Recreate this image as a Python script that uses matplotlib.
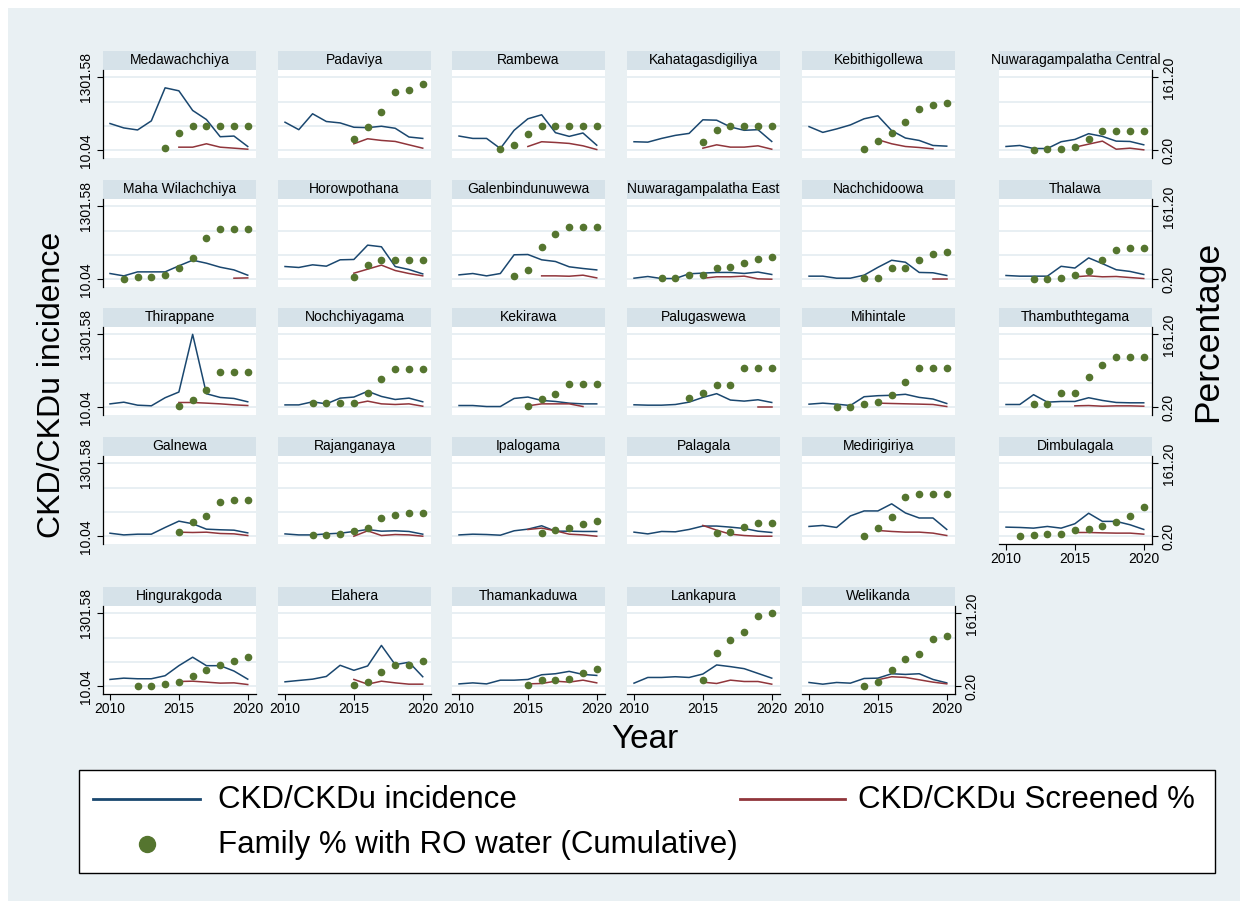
import numpy as np
import matplotlib
matplotlib.use('Agg')
import matplotlib.pyplot as plt
from matplotlib.patches import Rectangle
from matplotlib.lines import Line2D

plt.rcParams['font.family'] = ['Liberation Sans', 'DejaVu Sans']

N = None
years = [2010, 2011, 2012, 2013, 2014, 2015, 2016, 2017, 2018, 2019, 2020]

regions = ['Medawachchiya', 'Padaviya', 'Rambewa', 'Kahatagasdigiliya', 'Kebithigollewa',
           'Nuwaragampalatha Central', 'Maha Wilachchiya', 'Horowpothana', 'Galenbindunuwewa',
           'Nuwaragampalatha East', 'Nachchidoowa', 'Thalawa', 'Thirappane', 'Nochchiyagama',
           'Kekirawa', 'Palugaswewa', 'Mihintale', 'Thambuthtegama', 'Galnewa', 'Rajanganaya',
           'Ipalogama', 'Palagala', 'Medirigiriya', 'Dimbulagala', 'Hingurakgoda', 'Elahera',
           'Thamankaduwa', 'Lankapura', 'Welikanda']

# CKD/CKDu incidence (left axis)
incidence = {
    'Medawachchiya': [483, 405, 369, 530, 1116, 1063, 715, 554, 249, 261, 76],
    'Padaviya': [506, 374, 656, 519, 494, 417, 410, 435, 399, 244, 219],
    'Rambewa': [261, 219, 219, 40, 363, 567, 638, 321, 255, 315, 99],
    'Kahatagasdigiliya': [160, 153, 219, 273, 308, 549, 542, 422, 363, 374, 165],
    'Kebithigollewa': [428, 326, 387, 458, 567, 620, 357, 226, 183, 94, 82],
    'Nuwaragampalatha Central': [76, 94, 40, 40, 160, 201, 303, 255, 171, 165, 106],
    'Maha Wilachchiya': [111, 69, 140, 140, 140, 247, 347, 294, 223, 175, 81],
    'Horowpothana': [235, 218, 265, 241, 354, 360, 614, 585, 235, 182, 104],
    'Galenbindunuwewa': [87, 111, 69, 111, 443, 448, 354, 324, 230, 200, 175],
    'Nuwaragampalatha East': [28, 58, 22, 22, 106, 118, 130, 130, 112, 137, 94],
    'Nachchidoowa': [64, 64, 28, 28, 82, 220, 346, 311, 130, 124, 76],
    'Thalawa': [76, 64, 64, 64, 239, 208, 388, 286, 178, 148, 94],
    'Thirappane': [69, 99, 46, 35, 178, 279, 1301.58, 249, 183, 165, 106],
    'Nochchiyagama': [51, 51, 106, 69, 171, 190, 292, 201, 147, 171, 106],
    'Kekirawa': [40, 40, 22, 22, 165, 190, 130, 112, 82, 69, 69],
    'Palugaswewa': [53, 46, 46, 58, 100, 184, 250, 137, 118, 142, 94],
    'Mihintale': [64, 82, 64, 40, 196, 214, 221, 239, 184, 155, 76],
    'Thambuthtegama': [58, 58, 232, 100, 112, 112, 178, 130, 94, 88, 88],
    'Galnewa': [63, 33, 46, 46, 165, 277, 231, 135, 124, 117, 69],
    'Rajanganaya': [51, 33, 33, 51, 63, 94, 129, 99, 106, 94, 46],
    'Ipalogama': [33, 46, 40, 28, 106, 135, 195, 99, 99, 94, 94],
    'Palagala': [82, 51, 94, 88, 130, 190, 190, 171, 147, 99, 76],
    'Medirigiriya': [183, 201, 165, 369, 458, 458, 584, 422, 333, 333, 130],
    'Dimbulagala': [171, 165, 153, 183, 153, 231, 417, 273, 273, 213, 130],
    'Hingurakgoda': [130, 153, 142, 142, 196, 374, 524, 374, 374, 279, 135],
    'Elahera': [88, 112, 135, 183, 381, 292, 369, 733, 392, 435, 178],
    'Thamankaduwa': [51, 69, 51, 117, 117, 130, 213, 231, 273, 219, 201],
    'Lankapura': [64, 165, 165, 178, 165, 226, 387, 357, 321, 237, 153],
    'Welikanda': [76, 46, 76, 64, 147, 153, 231, 219, 231, 130, 69],
}

# CKD/CKDu Screened % (right axis)
screened = {
    'Medawachchiya': [N, N, N, N, N, 6.9, 6.9, 14.4, 6.9, 4.7, 2.4],
    'Padaviya': [N, N, N, N, N, 14.4, 25.5, 21.8, 19.6, 12.1, 4.7],
    'Rambewa': [N, N, N, N, N, 8.4, 18.9, 17.3, 15.2, 9.9, 1.7],
    'Kahatagasdigiliya': [N, N, N, N, N, 4.7, 12.1, 7.0, 7.0, 9.9, 2.4],
    'Kebithigollewa': [N, N, N, N, N, 23.4, 14.4, 8.4, 6.2, 3.2, N],
    'Nuwaragampalatha Central': [N, N, N, N, N, 6.9, 13.6, 20.3, 2.4, 4.7, 1.0],
    'Maha Wilachchiya': [N, N, N, N, N, N, N, N, N, 2.4, 3.1],
    'Horowpothana': [N, N, N, N, N, 13.5, 22.4, 31.3, 19.4, 12.8, 7.6],
    'Galenbindunuwewa': [N, N, N, N, N, N, 7.6, 7.6, 6.8, 9.1, 3.1],
    'Nuwaragampalatha East': [N, N, N, N, N, 2.4, 5.5, 5.5, 7.0, 1.0, 0.2],
    'Nachchidoowa': [N, N, N, N, N, N, N, N, N, 1.7, 1.7],
    'Thalawa': [N, N, N, N, N, 5.5, 7.7, 5.5, 6.2, 3.9, 1.7],
    'Thirappane': [N, N, N, N, N, 10.6, 10.6, 9.2, 7.6, 5.4, 3.9],
    'Nochchiyagama': [N, N, N, N, N, 7.6, 13.6, 7.6, 6.2, 7.6, 2.4],
    'Kekirawa': [N, N, N, N, N, 3.2, 7.6, 7.6, 7.6, 1.7, N],
    'Palugaswewa': [N, N, N, N, N, N, N, N, N, 1.7, 1.7],
    'Mihintale': [N, N, N, N, N, 9.2, 8.4, 7.7, 7.0, 6.2, 1.7],
    'Thambuthtegama': [N, N, N, N, N, 3.2, 3.9, 2.4, 3.2, 3.2, 2.4],
    'Galnewa': [N, N, N, N, N, 9.1, 8.4, 9.1, 6.2, 5.4, 1.7],
    'Rajanganaya': [N, N, N, N, N, 0.2, 12.1, 1.7, 3.9, 3.1, 0.2],
    'Ipalogama': [N, N, N, N, N, 15.0, 18.1, 12.1, 4.7, 3.1, 0.2],
    'Palagala': [N, N, N, N, N, 24.0, 13.6, 4.7, 1.7, 0.2, 0.2],
    'Medirigiriya': [N, N, N, N, N, 12.9, 10.7, 9.2, 9.2, 7.0, 1.7],
    'Dimbulagala': [N, N, N, N, N, 8.4, 8.4, 7.6, 7.0, 7.0, 4.7],
    'Hingurakgoda': [N, N, N, N, N, 10.6, 11.3, 9.2, 7.0, 7.6, 3.9],
    'Elahera': [N, N, N, N, N, 15.2, 4.7, 11.3, 7.6, 4.7, 4.7],
    'Thamankaduwa': [N, N, N, N, N, 5.4, 6.2, 11.3, 9.2, 13.6, 7.6],
    'Lankapura': [N, N, N, N, N, 9.2, 6.2, 13.6, 10.6, 10.6, 4.7],
    'Welikanda': [N, N, N, N, N, 14.4, 21.1, 19.6, 14.4, 9.2, 5.4],
}

# Family % with RO water (Cumulative) (right axis)
ro_water = {
    'Medawachchiya': [N, N, N, N, 5.4, 37.4, 54.6, 54.6, 54.6, 54.6, 54.6],
    'Padaviya': [N, N, N, N, N, 24.0, 51.6, 84.4, 129.2, 133.7, 146.2],
    'Rambewa': [N, N, N, 3.2, 12.1, 35.3, 54.6, 54.6, 54.6, 54.6, 54.6],
    'Kahatagasdigiliya': [N, N, N, N, N, 18.1, 45.6, 53.8, 53.8, 53.8, 53.8],
    'Kebithigollewa': [N, N, N, N, 3.9, 19.6, 39.0, 62.8, 91.2, 100.0, 103.8],
    'Nuwaragampalatha Central': [N, N, 0.2, 3.2, 3.9, 6.2, 24.8, 41.9, 42.7, 42.7, 42.7],
    'Maha Wilachchiya': [N, 1.0, 4.7, 4.7, 9.9, 23.9, 47.5, 91.0, 111.8, 111.8, 111.8],
    'Horowpothana': [N, N, N, N, N, 6.1, 32.7, 42.2, 42.2, 42.2, 42.2],
    'Galenbindunuwewa': [N, N, N, N, 7.6, 20.8, 71.8, 99.9, 116.1, 116.1, 116.1],
    'Nuwaragampalatha East': [N, N, 3.2, 3.2, 8.4, 8.4, 24.2, 27.1, 35.4, 44.3, 49.6],
    'Nachchidoowa': [N, N, N, N, 2.4, 2.4, 24.9, 24.9, 42.9, 54.9, 60.9],
    'Thalawa': [N, N, 1.0, 1.7, 2.4, 8.4, 18.2, 42.9, 65.4, 68.3, 68.3],
    'Thirappane': [N, N, N, N, N, 3.9, 15.9, 39.0, 77.7, 77.7, 77.7],
    'Nochchiyagama': [N, N, 8.4, 8.4, 8.4, 8.4, 31.4, 63.6, 84.4, 84.4, 84.4],
    'Kekirawa': [N, N, N, N, N, 3.9, 17.3, 30.0, 50.9, 50.9, 50.9],
    'Palugaswewa': [N, N, N, N, 20.5, 30.9, 48.2, 49.6, 87.8, 87.8, 87.8],
    'Mihintale': [N, N, 0.2, 0.2, 6.2, 10.7, 26.4, 54.9, 87.8, 87.8, 87.8],
    'Thambuthtegama': [N, N, 7.0, 7.0, 32.4, 32.4, 66.1, 93.1, 111.0, 111.0, 111.0],
    'Galnewa': [N, N, N, N, N, 9.9, 30.6, 44.0, 76.7, 80.4, 80.4],
    'Rajanganaya': [N, N, 3.9, 3.9, 4.7, 11.3, 17.3, 40.3, 47.7, 51.4, 51.4],
    'Ipalogama': [N, N, N, N, N, N, 6.8, 15.0, 18.7, 26.1, 33.5],
    'Palagala': [N, N, N, N, N, N, 6.2, 8.4, 21.1, 28.5, 28.5],
    'Medirigiriya': [N, N, N, N, 0.2, 18.1, 42.7, 87.5, 93.4, 93.4, 93.4],
    'Dimbulagala': [N, 1.7, 3.9, 4.7, 5.4, 12.9, 16.6, 23.4, 30.8, 45.0, 65.7],
    'Hingurakgoda': [N, N, 1.7, 1.7, 4.7, 9.9, 23.4, 36.7, 47.9, 55.4, 64.3],
    'Elahera': [N, N, N, N, N, 2.4, 9.2, 31.4, 47.9, 47.9, 56.1],
    'Thamankaduwa': [N, N, N, N, N, 3.2, 12.9, 14.4, 16.6, 30.0, 39.0],
    'Lankapura': [N, N, N, N, N, 14.4, 73.3, 103.0, 120.1, 155.2, 161.2],
    'Welikanda': [N, N, N, N, 0.2, 9.2, 36.0, 59.8, 71.7, 103.8, 111.9],
}

left_ticks = [10.04, 1301.58]
left_labels = ['10.04', '1301.58']
right_ticks = [0.20, 161.20]
right_labels = ['0.20', '161.20']
x_ticks = [2010, 2015, 2020]

NAVY = '#1A476F'
MAROON = '#90353B'
GREEN = '#55752F'
BG = '#E9F0F3'
STRIP = '#D6E2E9'
GRID = '#E6EEF2'

W, H = 1248, 908
fig = plt.figure(figsize=(W / 100, H / 100), dpi=100, facecolor='white')


def fx(px):
    return px / W


def fy(py):
    return 1 - py / H


fig.patches.append(Rectangle((fx(8), fy(901)), (1240 - 8) / W, (901 - 8) / H,
                             transform=fig.transFigure, facecolor=BG,
                             edgecolor='none', zorder=-10))

col_x = [103, 278, 452, 627, 802, 999]
row_top = [70, 199, 327, 456, 606]
PW, PH, SH = 153, 88, 19
lo_f, hi_f = -0.107, 1.101
LMIN, LMAX = left_ticks
RMIN, RMAX = right_ticks
TICK_FS = 10

for i, name in enumerate(regions):
    r, c = divmod(i, 6)
    x0, y0 = col_x[c], row_top[r]
    is_left = (c == 0)
    is_right = (c == 5) or (i == len(regions) - 1)
    is_bottom = (r == 4) or (name == 'Dimbulagala')

    ax = fig.add_axes([fx(x0), fy(y0 + PH), PW / W, PH / H])
    ax.set_facecolor('white')
    ax.set_xlim(2009.49, 2020.6)
    ax.set_ylim(LMIN + lo_f * (LMAX - LMIN), LMIN + hi_f * (LMAX - LMIN))
    for g in range(4):
        ax.axhline(LMIN + g / 3 * (LMAX - LMIN), color=GRID, lw=1.3, zorder=0)
    inc = np.array(incidence[name], dtype=float)
    ax.plot(years, inc, color=NAVY, lw=1.1, zorder=2)

    ax2 = ax.twinx()
    ax2.set_ylim(RMIN + lo_f * (RMAX - RMIN), RMIN + hi_f * (RMAX - RMIN))
    scr = np.array([np.nan if v is None else v for v in screened[name]], dtype=float)
    ro = np.array([np.nan if v is None else v for v in ro_water[name]], dtype=float)
    ax2.plot(years, scr, color=MAROON, lw=1.1, zorder=2)
    ax2.plot(years, ro, ls='none', marker='o', ms=4.5, color=GREEN, mec=GREEN, zorder=3)

    for a in (ax, ax2):
        for s in a.spines.values():
            s.set_visible(False)
            s.set_linewidth(0.9)
            s.set_color('black')

    if is_left:
        ax.spines['left'].set_visible(True)
        ax.set_yticks(left_ticks, labels=left_labels)
        ax.tick_params(axis='y', length=4, width=0.8, pad=3, labelsize=TICK_FS)
        for lab in ax.get_yticklabels():
            lab.set_rotation(90)
            lab.set_va('center')
    else:
        ax.set_yticks([])

    if is_right:
        ax2.spines['right'].set_visible(True)
        ax2.set_yticks(right_ticks, labels=right_labels)
        ax2.tick_params(axis='y', length=4, width=0.8, pad=3, labelsize=TICK_FS)
        for lab in ax2.get_yticklabels():
            lab.set_rotation(90)
            lab.set_va('center')
    else:
        ax2.set_yticks([])

    if is_bottom:
        ax.spines['bottom'].set_visible(True)
        ax.set_xticks(x_ticks, labels=[str(t) for t in x_ticks])
        ax.tick_params(axis='x', length=4, width=0.8, pad=1.5, labelsize=TICK_FS)
    else:
        ax.set_xticks([])

    fig.patches.append(Rectangle((fx(x0), fy(y0)), PW / W, SH / H,
                                 transform=fig.transFigure, facecolor=STRIP,
                                 edgecolor='none', zorder=-5))
    fig.text(fx(x0 + PW / 2), fy(y0 - SH / 2 - 0.5), name, ha='center', va='center',
             fontsize=10, color='black')

# axis titles
fig.text(fx(52), fy(385), 'CKD/CKDu incidence', rotation=90, ha='center', va='center',
         fontsize=23)
fig.text(fx(1208), fy(331), 'Percentage', rotation=90, ha='center', va='center',
         fontsize=25.5)
fig.text(fx(645), fy(740), 'Year', ha='center', va='center', fontsize=24)

# legend
fig.patches.append(Rectangle((fx(79), fy(873)), (1215 - 79) / W, (873 - 770) / H,
                             transform=fig.transFigure, facecolor='white',
                             edgecolor='black', lw=1.0, zorder=5))
fig.lines.append(Line2D([fx(93), fx(200)], [fy(799), fy(799)], transform=fig.transFigure,
                        color=NAVY, lw=2.0, zorder=6))
fig.lines.append(Line2D([fx(740), fx(845)], [fy(799), fy(799)], transform=fig.transFigure,
                        color=MAROON, lw=2.0, zorder=6))
fig.lines.append(Line2D([fx(147)], [fy(844)], transform=fig.transFigure, ls='none',
                        marker='o', ms=11.5, color=GREEN, zorder=6))
fig.text(fx(218), fy(800), 'CKD/CKDu incidence', ha='left', va='center', fontsize=22.5, zorder=7)
fig.text(fx(858), fy(800), 'CKD/CKDu Screened %', ha='left', va='center', fontsize=22.5, zorder=7)
fig.text(fx(218), fy(845), 'Family % with RO water (Cumulative)', ha='left', va='center',
         fontsize=22.5, zorder=7)

fig.savefig('out.png', dpi=100, facecolor='white')
